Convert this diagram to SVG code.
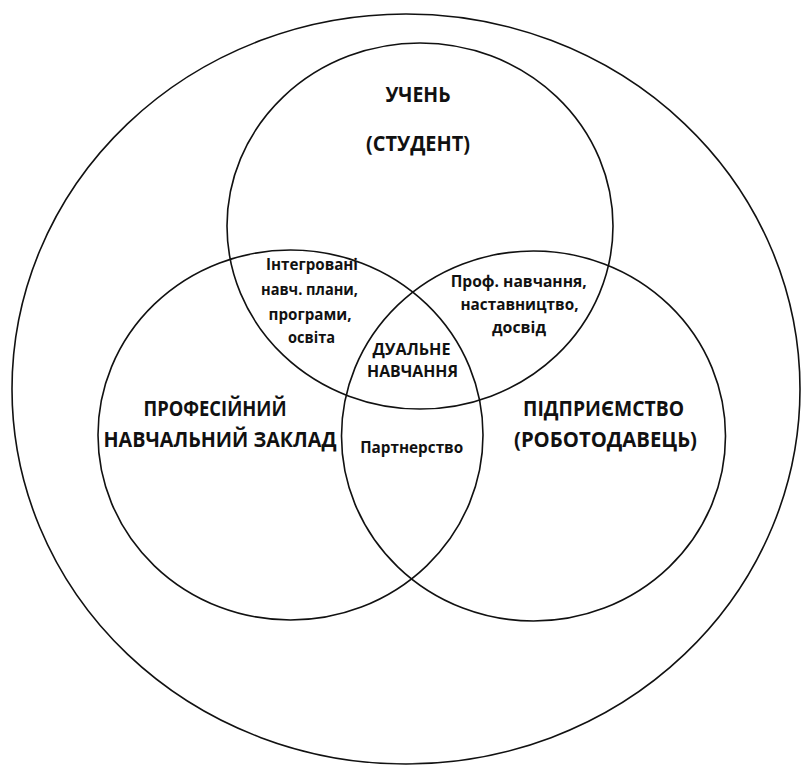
<svg xmlns="http://www.w3.org/2000/svg" width="802" height="765" viewBox="0 0 802 765">
<style>
.c{fill:none;stroke:#111;stroke-width:1.6}
.big{font-family:"Open Sans","Noto Sans",sans-serif;font-weight:bold;font-size:21px;fill:#111;text-anchor:middle}
.sm{font-family:"Open Sans","Noto Sans",sans-serif;font-weight:bold;font-size:15.5px;fill:#111;text-anchor:middle}
</style>
<rect width="802" height="765" fill="#fff"/>
<g id="outer"><ellipse class="c" cx="406" cy="389" rx="394" ry="375"/></g>
<g id="student">
<ellipse class="c" cx="420" cy="226" rx="193" ry="183"/>
<text class="big" x="418" y="102" font-size="19.5" textLength="65" lengthAdjust="spacingAndGlyphs">УЧЕНЬ</text>
<text class="big" x="418" y="151" font-size="19.5" textLength="104" lengthAdjust="spacingAndGlyphs">(СТУДЕНТ)</text>
</g>
<g id="school">
<ellipse class="c" cx="290.5" cy="435" rx="192.5" ry="185"/>
<text class="big" x="215" y="416" textLength="143" lengthAdjust="spacingAndGlyphs">ПРОФЕСІЙНИЙ</text>
<text class="big" x="220" y="447" textLength="233" lengthAdjust="spacingAndGlyphs">НАВЧАЛЬНИЙ ЗАКЛАД</text>
</g>
<g id="enterprise">
<ellipse class="c" cx="533.5" cy="436" rx="192" ry="185"/>
<text class="big" x="603.5" y="416" textLength="161" lengthAdjust="spacingAndGlyphs">ПІДПРИЄМСТВО</text>
<text class="big" x="605.5" y="447" textLength="183" lengthAdjust="spacingAndGlyphs">(РОБОТОДАВЕЦЬ)</text>
</g>
<g id="student-school">
<text class="sm" x="312" y="270" textLength="92" lengthAdjust="spacingAndGlyphs">Інтегровані</text>
<text class="sm" x="309.5" y="295" textLength="97" lengthAdjust="spacingAndGlyphs">навч. плани,</text>
<text class="sm" x="310" y="320" textLength="83" lengthAdjust="spacingAndGlyphs">програми,</text>
<text class="sm" x="311.5" y="343" textLength="47" lengthAdjust="spacingAndGlyphs">освіта</text>
</g>
<g id="student-enterprise">
<text class="sm" x="518.7" y="287" textLength="136" lengthAdjust="spacingAndGlyphs">Проф. навчання,</text>
<text class="sm" x="519.5" y="310" textLength="118" lengthAdjust="spacingAndGlyphs">наставництво,</text>
<text class="sm" x="519" y="333" textLength="54" lengthAdjust="spacingAndGlyphs">досвід</text>
</g>
<g id="dual">
<text class="sm" x="411.5" y="355" textLength="78" lengthAdjust="spacingAndGlyphs">ДУАЛЬНЕ</text>
<text class="sm" x="412.5" y="377" textLength="91" lengthAdjust="spacingAndGlyphs">НАВЧАННЯ</text>
</g>
<g id="school-enterprise">
<text class="sm" x="411.7" y="453" textLength="103" lengthAdjust="spacingAndGlyphs">Партнерство</text>
</g>
<g id="connectors"/>
</svg>
